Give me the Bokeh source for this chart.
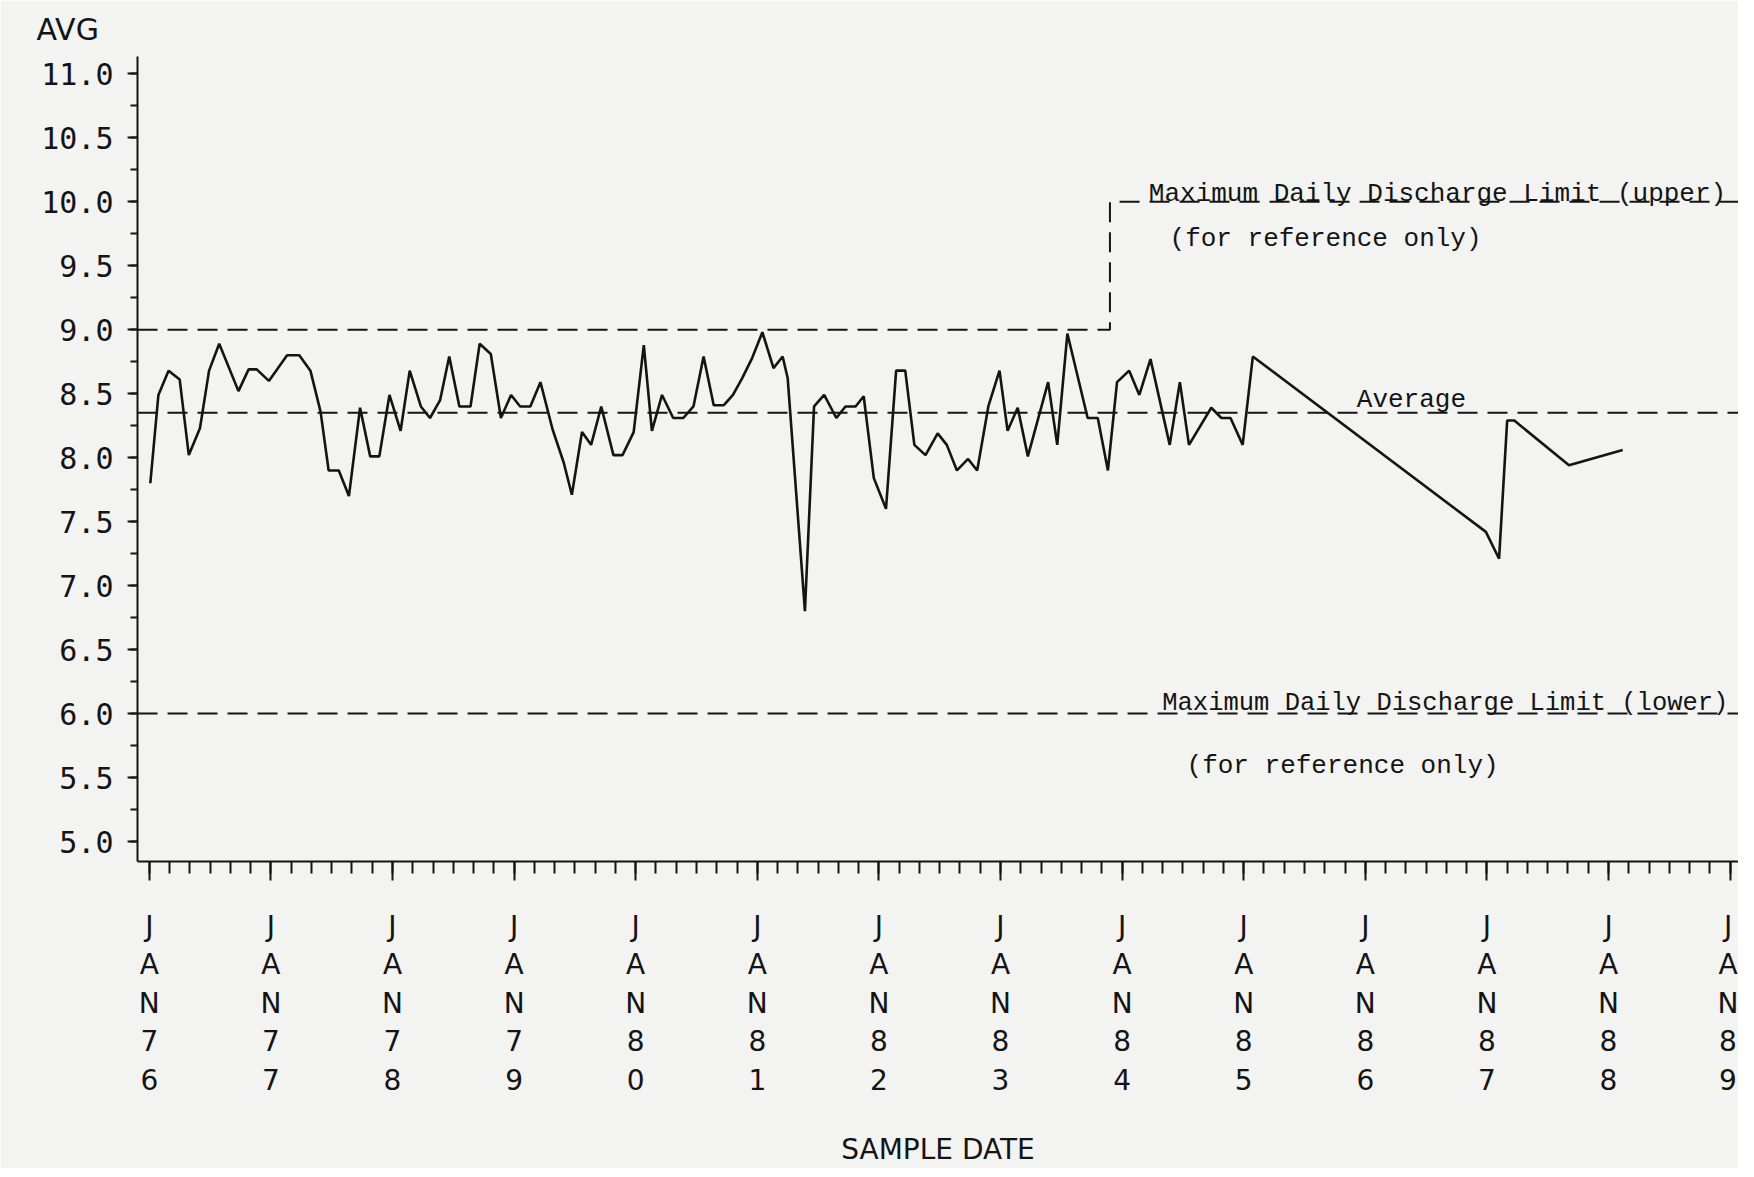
from bokeh.plotting import figure
from bokeh.models import FixedTicker, PrintfTickFormatter, Label, Range1d
from bokeh.embed import file_html
from bokeh.resources import INLINE

# ---- data ----
# sample dates as months since January 1976
months_since_jan76 = [
    0.1, 0.9, 1.9, 3.0, 3.9, 5.0, 5.9, 6.9, 8.8, 9.8, 10.6, 11.8, 13.6, 14.8, 15.9,
    16.9, 17.7, 18.7, 19.7, 20.8, 21.8, 22.7, 23.7, 24.8, 25.7, 26.8, 27.7, 28.7,
    29.6, 30.6, 31.7, 32.6, 33.7, 34.7, 35.7, 36.6, 37.6, 38.6, 39.8,
    40.9, 41.7, 42.7, 43.6, 44.6, 45.8, 46.7, 47.8, 48.8, 49.6, 50.6, 51.7, 52.7,
    53.7, 54.7, 55.7, 56.7, 57.6, 58.5, 59.5, 60.5, 61.6, 62.5, 63.0, 64.7, 65.6,
    66.6, 67.8, 68.7, 69.7, 70.5, 71.5, 72.7, 73.7, 74.6, 75.5, 76.6, 77.8, 78.7,
    79.7, 80.8, 81.7, 82.8, 83.9,
    84.7, 85.7, 86.7, 88.7, 89.6, 90.6, 92.6, 93.6, 94.6, 95.5, 96.7, 97.7, 98.8,
    100.7, 101.7, 102.6, 104.8, 105.8, 106.7, 107.9, 108.9,
    131.9, 133.2, 134.0, 134.7, 140.1, 145.4,
]
avg_values = [
    7.80, 8.49, 8.68, 8.61, 8.02, 8.23, 8.68, 8.89, 8.52, 8.69, 8.69, 8.60, 8.80, 8.80, 8.68,
    8.36, 7.90, 7.90, 7.70, 8.39, 8.01, 8.01, 8.49, 8.21, 8.68, 8.40, 8.31, 8.45,
    8.79, 8.40, 8.40, 8.89, 8.81, 8.31, 8.49, 8.40, 8.40, 8.59, 8.22,
    7.96, 7.71, 8.20, 8.10, 8.40, 8.02, 8.02, 8.20, 8.88, 8.21, 8.49, 8.31, 8.31,
    8.40, 8.79, 8.41, 8.41, 8.49, 8.62, 8.78, 8.98, 8.70, 8.79, 8.62, 6.80, 8.40,
    8.49, 8.31, 8.40, 8.40, 8.48, 7.84, 7.60, 8.68, 8.68, 8.10, 8.02, 8.19, 8.10,
    7.90, 7.99, 7.90, 8.40, 8.68,
    8.21, 8.39, 8.01, 8.59, 8.10, 8.97, 8.31, 8.31, 7.90, 8.59, 8.68, 8.49, 8.77,
    8.10, 8.59, 8.10, 8.39, 8.31, 8.31, 8.10, 8.79,
    7.42, 7.21, 8.29, 8.29, 7.94, 8.06,
]
tick_years = [1976, 1977, 1978, 1979, 1980, 1981, 1982, 1983, 1984, 1985, 1986, 1987, 1988, 1989]
tick_labels = ["JAN76", "JAN77", "JAN78", "JAN79", "JAN80", "JAN81", "JAN82",
               "JAN83", "JAN84", "JAN85", "JAN86", "JAN87", "JAN88", "JAN89"]
y_ticks = [5.0, 5.5, 6.0, 6.5, 7.0, 7.5, 8.0, 8.5, 9.0, 9.5, 10.0, 10.5, 11.0]

upper_limit_before = 9.0
upper_limit_after = 10.0
upper_limit_change_month = 94.8
lower_limit = 6.0
average_value = 8.35

sample_year = [1976 + m / 12.0 for m in months_since_jan76]
change_year = 1976 + upper_limit_change_month / 12.0

X0, X1 = 1975.903, 1989.069
Y0, Y1 = 4.844, 11.135

PAPER = "#f3f3f2"
INK = "#141414"

p = figure(width=1738, height=1168, output_backend="svg", toolbar_location=None,
           x_range=Range1d(X0, X1), y_range=Range1d(Y0, Y1),
           min_border_left=137, min_border_right=0, min_border_top=56,
           min_border_bottom=305, title="AVG")
p.background_fill_color = PAPER
p.border_fill_color = PAPER
p.outline_line_color = None
p.grid.visible = False

p.title.align = "left"
p.title.offset = -101
p.title.text_font = "DejaVu Sans"
p.title.text_font_style = "normal"
p.title.text_font_size = "30px"
p.title.text_color = INK
p.title.standoff = 19

# limit lines and average
p.line([X0, change_year, change_year, X1],
       [upper_limit_before, upper_limit_before, upper_limit_after, upper_limit_after],
       line_color=INK, line_width=2, line_dash="20 10")
p.line([X0, X1], [lower_limit, lower_limit], line_color=INK, line_width=2, line_dash="20 10")
p.line([X0, X1], [average_value, average_value], line_color=INK, line_width=2, line_dash="20 10")

# data series
p.line(sample_year, avg_values, line_color=INK, line_width=2.6)

# annotations
ann = dict(text_font="Liberation Mono", text_color=INK)
p.add_layout(Label(x=1984.22, y=upper_limit_after, y_offset=8,
                   text="Maximum Daily Discharge Limit (upper)", text_font_size="26px",
                   text_baseline="middle", **ann))
p.add_layout(Label(x=1984.39, y=9.71, text="(for reference only)", text_font_size="26px",
                   text_baseline="middle", **ann))
p.add_layout(Label(x=1985.93, y=average_value, y_offset=13, text="Average",
                   text_font_size="26px", text_baseline="middle", **ann))
p.add_layout(Label(x=1984.33, y=lower_limit, y_offset=10,
                   text="Maximum Daily Discharge Limit (lower)", text_font_size="25.5px",
                   text_baseline="middle", **ann))
p.add_layout(Label(x=1984.53, y=5.59, text="(for reference only)", text_font_size="26px",
                   text_baseline="middle", **ann))

# axes
minor_x = [1976 + k / 6.0 for k in range(0, 79)]
xa = p.xaxis[0]
xa.ticker = FixedTicker(ticks=tick_years, minor_ticks=minor_x)
xa.major_label_overrides = {y: "\n".join(lbl) for y, lbl in zip(tick_years, tick_labels)}
xa.major_label_orientation = "horizontal"
xa.major_tick_out = 19
xa.major_tick_in = 0
xa.minor_tick_out = 12
xa.minor_tick_in = 0
xa.major_label_standoff = 29
xa.major_label_text_font = "DejaVu Sans"
xa.major_label_text_font_size = "28px"
xa.major_label_text_line_height = 1.17
xa.major_label_text_color = INK
xa.axis_label = "SAMPLE DATE"
xa.axis_label_text_font = "DejaVu Sans"
xa.axis_label_text_font_style = "normal"
xa.axis_label_text_font_size = "28px"
xa.axis_label_text_color = INK
xa.axis_label_standoff = 33
xa.axis_line_width = 2
xa.axis_line_color = INK
xa.major_tick_line_color = INK
xa.minor_tick_line_color = INK
xa.major_tick_line_width = 2
xa.minor_tick_line_width = 2

minor_y = [5.0 + k * 0.25 for k in range(0, 25)]
ya = p.yaxis[0]
ya.ticker = FixedTicker(ticks=y_ticks, minor_ticks=minor_y)
ya.formatter = PrintfTickFormatter(format="%.1f")
ya.major_tick_out = 10
ya.major_tick_in = 0
ya.minor_tick_out = 7
ya.minor_tick_in = 0
ya.major_label_standoff = 14
ya.major_label_text_font = "DejaVu Sans Mono"
ya.major_label_text_font_size = "30px"
ya.major_label_text_color = INK
ya.axis_line_width = 2
ya.axis_line_color = INK
ya.major_tick_line_color = INK
ya.minor_tick_line_color = INK
ya.major_tick_line_width = 2
ya.minor_tick_line_width = 2

open("out.html", "w").write(file_html(p, INLINE))
